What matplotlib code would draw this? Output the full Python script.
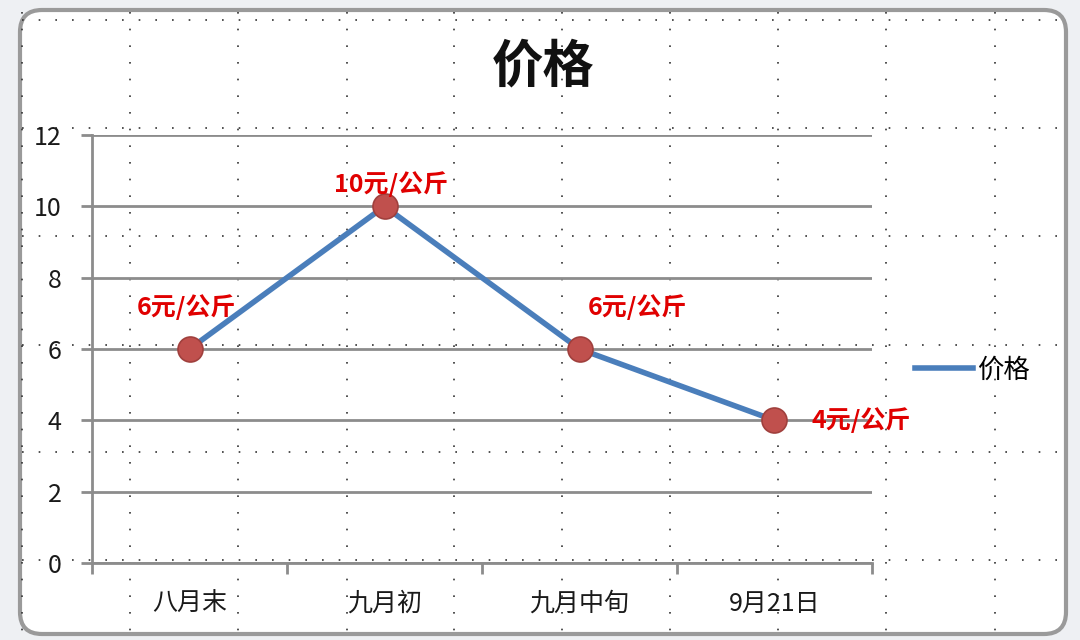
import matplotlib.pyplot as plt
from matplotlib.patches import FancyBboxPatch
from matplotlib.lines import Line2D

plt.rcParams['font.family'] = ['Noto Sans CJK SC', 'DejaVu Sans']

# data
categories = ["八月末", "九月初", "九月中旬", "9月21日"]
prices = [6, 10, 6, 4]
point_labels = ["6元/公斤", "10元/公斤", "6元/公斤", "4元/公斤"]
label_offsets = [(-3, 42), (7, 22), (58, 42), (87, 0)]   # pixels from each point
series_name = "价格"

W, H = 1080, 640
fig = plt.figure(figsize=(W / 100, H / 100), dpi=100)
fig.patch.set_facecolor("#eef0f3")

# background: chart area frame + excel cell grid
bg = fig.add_axes([0, 0, 1, 1])
bg.set_xlim(0, W)
bg.set_ylim(H, 0)
bg.axis("off")
frame = FancyBboxPatch((20, 10), 1046, 624, boxstyle="round,pad=0,rounding_size=22",
                       facecolor="white", edgecolor="#9a9a9a", linewidth=3)
bg.add_patch(frame)
for x in [22, 130, 238, 347, 454, 562, 670, 778, 886, 995]:
    bg.plot([x, x], [12, 632], color="#333333", lw=1.2, ls=(0, (1, 9)))
for y in [20, 128, 236, 345, 452, 560]:
    bg.plot([22, 1062], [y, y], color="#333333", lw=1.2, ls=(0, (1, 9)))

ax = fig.add_axes([92 / W, 1 - 563 / H, 780 / W, 428 / H])
ax.patch.set_alpha(0)
xs = list(range(len(categories)))
ax.plot(xs, prices, color="#4a7ebb", lw=4, marker="o", markersize=18,
        markerfacecolor="#c0504d", markeredgecolor="#a0403d", markeredgewidth=1.2,
        zorder=3)

for x, y, t, off in zip(xs, prices, point_labels, label_offsets):
    ax.annotate(t, (x, y), xytext=off, textcoords="offset pixels",
                ha="center", va="center", color="#e00000", fontsize=18,
                fontweight="bold", zorder=4)

ax.set_xlim(-0.5, len(categories) - 0.5)
ax.set_ylim(0, 12)
ax.set_yticks(range(0, 13, 2))
ax.yaxis.grid(True, color="#8c8c8c", lw=2)
ax.set_axisbelow(True)
ax.set_xticks(xs)
ax.set_xticklabels(categories, fontsize=18, color="#1a1a1a", fontweight="medium")
ax.set_xticks([i + 0.5 for i in range(-1, len(categories))], minor=True)
ax.tick_params(axis="x", which="major", length=0, pad=20)
ax.tick_params(axis="x", which="minor", length=8, width=2, color="#8c8c8c")
ax.tick_params(axis="y", length=8, width=2, color="#8c8c8c", labelsize=18,
               labelcolor="#1a1a1a", pad=14)
for lb in ax.get_yticklabels():
    lb.set_fontweight("medium")
for s in ["top", "right"]:
    ax.spines[s].set_visible(False)
for s in ["left", "bottom"]:
    ax.spines[s].set_color("#8c8c8c")
    ax.spines[s].set_linewidth(2)

fig.text(543 / W, 1 - 66 / H, series_name, ha="center", va="center",
         fontsize=37, fontweight="bold", color="#111111")

handle = Line2D([], [], color="#4a7ebb", lw=4)
ax.legend([handle], [series_name], loc="center left",
          bbox_to_anchor=(823 / 780, (563 - 370) / 428),
          frameon=False, prop={"size": 19, "weight": "medium"},
          handlelength=2.2, handletextpad=0.15, borderaxespad=0, borderpad=0)

fig.savefig("out.png", dpi=100, facecolor=fig.get_facecolor())
